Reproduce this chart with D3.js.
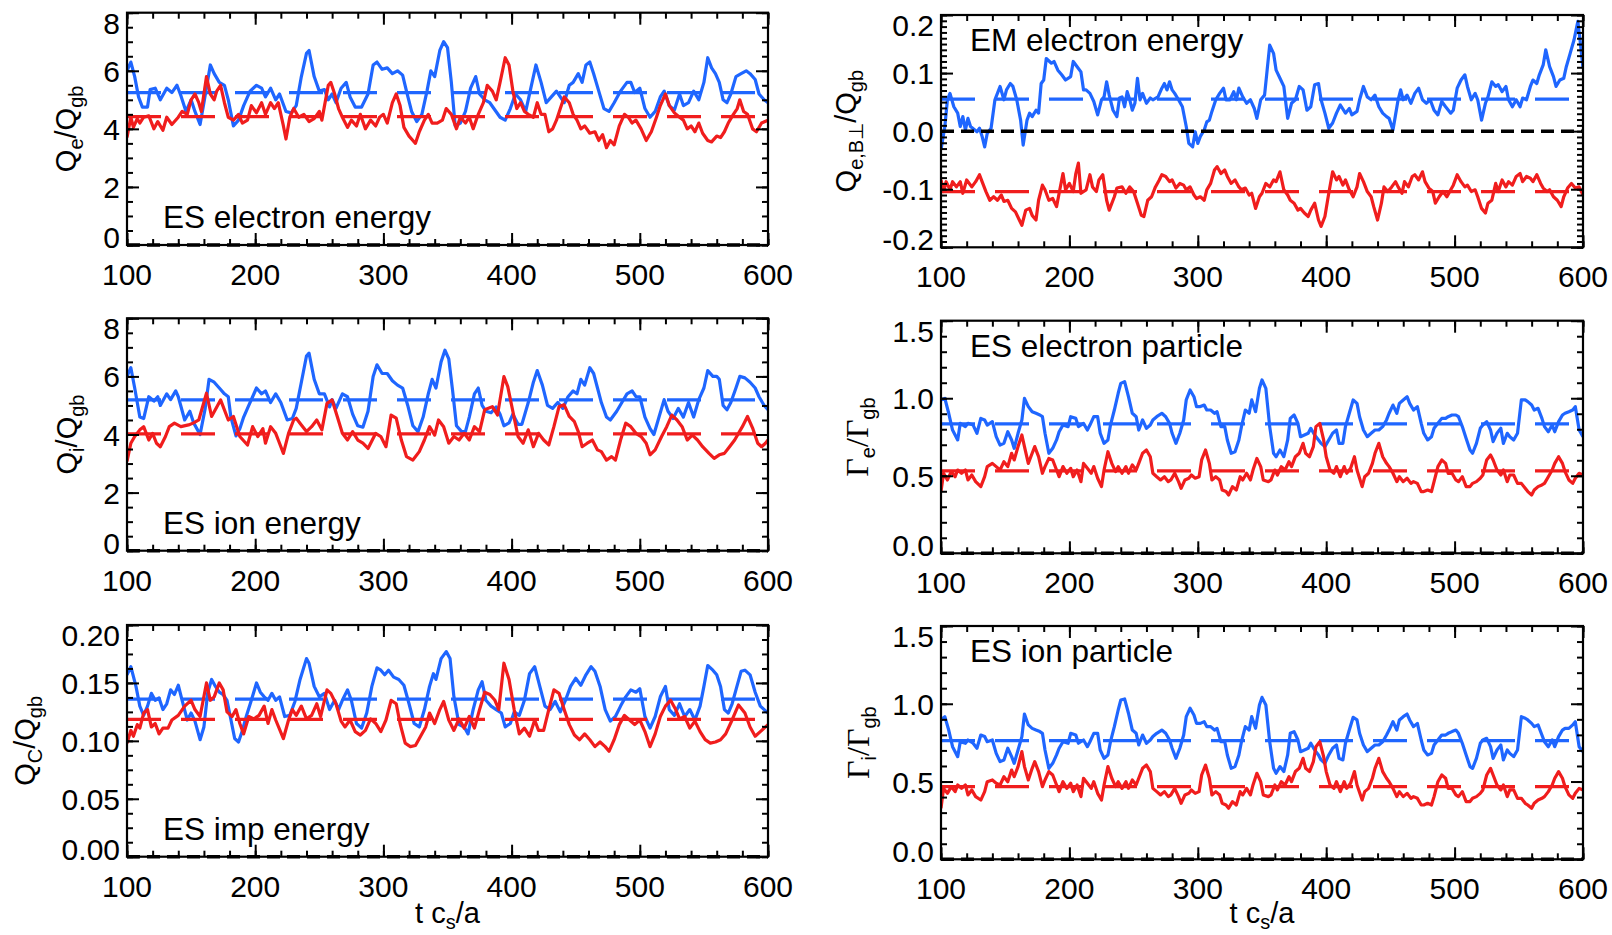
<!DOCTYPE html>
<html>
<head>
<meta charset="utf-8">
<script src="https://cdn.jsdelivr.net/npm/d3@7"></script>
<style>
  body { margin: 0; background: #fff; }
  text { font-family: "Liberation Sans", Arial, Helvetica, sans-serif; fill: #000; }
</style>
</head>
<body>
<svg id="chart" width="1612" height="935"></svg>
<script>
// time axis
var tRange = [100, 600];
var tTicks = [100, 200, 300, 400, 500, 600];

// ES electron energy (Qe/Qgb)
var qeBlue = [[100,6.0],[103,6.3],[106,5.8],[109,5.1],[112,4.75],[116,4.75],[118,5.35],[122,5.4],[126,5.0],[131,5.4],[135,5.25],[139,5.5],[142,5.15],[146,4.6],[150,5.0],[153,4.6],[157,4.15],[160,4.9],[165,6.2],[168,5.9],[172,5.6],[176,5.5],[179,5.0],[183,4.1],[187,4.3],[191,4.8],[196,5.3],[201,5.5],[205,5.4],[208,5.1],[212,5.4],[216,5.0],[219,5.2],[224,4.6],[228,4.55],[232,4.8],[236,5.8],[240,6.6],[242,6.7],[246,5.8],[250,5.3],[254,5.35],[257,5.0],[260,5.2],[263,4.9],[267,5.4],[271,5.6],[274,5.1],[278,4.75],[283,4.75],[288,5.2],[292,6.2],[295,6.3],[299,6.05],[303,6.1],[307,5.9],[311,6.0],[315,5.85],[318,5.3],[322,4.6],[326,4.25],[330,4.5],[334,5.3],[337,6.0],[340,5.8],[344,6.7],[347,7.0],[350,6.8],[353,5.6],[356,4.1],[360,4.2],[364,4.6],[368,5.4],[372,5.8],[375,5.2],[379,5.0],[383,4.9],[387,4.65],[391,4.4],[395,4.3],[399,4.7],[403,5.2],[407,5.0],[411,4.6],[415,5.4],[419,6.2],[423,5.6],[427,4.9],[431,5.1],[435,5.3],[438,5.1],[441,4.9],[445,5.5],[448,5.6],[452,5.9],[455,5.6],[458,6.2],[461,6.3],[464,5.9],[468,5.3],[472,4.7],[476,4.6],[480,4.9],[485,5.3],[490,5.6],[493,5.6],[496,5.25],[500,5.4],[504,4.7],[508,4.4],[512,4.6],[516,5.1],[519,5.3],[523,4.8],[527,4.65],[531,5.2],[534,4.8],[538,4.9],[542,5.3],[546,5.0],[550,5.6],[553,6.45],[556,6.1],[559,5.9],[562,5.6],[565,5.0],[568,4.9],[571,5.2],[575,5.8],[579,5.9],[583,6.0],[586,5.9],[590,5.7],[593,5.2],[597,5.0],[600,4.9]];
var qeRed = [[100,3.7],[103,4.4],[105,4.05],[108,4.35],[110,4.2],[113,4.4],[117,4.45],[121,4.0],[124,4.25],[128,3.95],[131,4.4],[135,4.15],[140,4.4],[143,4.6],[147,4.5],[150,5.0],[153,5.2],[156,4.9],[158,4.6],[162,5.8],[165,5.2],[168,5.0],[170,5.3],[173,5.5],[176,4.9],[179,4.4],[183,4.3],[187,4.5],[190,4.2],[194,4.3],[197,4.8],[201,4.55],[205,4.9],[208,4.5],[212,4.9],[215,4.7],[218,4.9],[222,4.1],[224,3.65],[227,4.4],[230,4.7],[234,4.4],[238,4.5],[242,4.25],[246,4.35],[250,4.6],[252,4.3],[257,5.5],[259,5.6],[262,5.2],[265,4.7],[268,4.4],[272,4.05],[275,4.3],[279,4.1],[282,4.5],[286,4.0],[290,4.3],[294,4.1],[297,4.4],[300,4.5],[303,4.2],[307,4.9],[310,5.2],[313,4.8],[316,4.05],[320,3.75],[323,3.6],[325,3.5],[328,3.9],[332,4.3],[335,4.5],[338,4.2],[342,4.2],[346,4.3],[349,4.7],[353,4.5],[357,4.0],[360,4.4],[364,4.2],[367,4.4],[370,4.0],[374,4.5],[378,4.9],[381,5.5],[385,5.3],[388,5.0],[391,5.6],[395,6.45],[398,6.2],[401,5.3],[404,4.7],[407,4.9],[410,4.6],[413,4.5],[417,4.4],[420,4.9],[423,4.5],[426,4.5],[429,3.9],[432,4.0],[435,4.3],[438,4.7],[441,5.1],[445,4.9],[448,4.5],[451,4.3],[454,4.0],[457,4.1],[461,3.85],[465,3.9],[468,3.6],[471,3.8],[474,3.35],[477,3.6],[480,3.45],[484,4.1],[488,4.5],[491,4.4],[494,4.2],[497,4.3],[501,4.0],[505,3.6],[509,3.9],[513,4.4],[516,4.8],[520,5.2],[523,4.8],[527,4.55],[531,4.4],[534,4.3],[537,4.0],[540,4.1],[543,3.9],[546,4.2],[549,3.85],[553,3.6],[556,3.55],[560,3.75],[563,3.7],[566,3.9],[569,4.2],[573,4.5],[576,4.7],[578,5.0],[581,4.6],[584,4.5],[588,4.0],[591,3.9],[595,4.2],[600,4.3]];

// ES ion energy (Qi/Qgb)
var qiBlue = [[100,6.0],[103,6.3],[106,5.6],[110,4.6],[113,4.55],[117,5.3],[121,5.15],[124,5.3],[126,5.0],[131,5.4],[134,5.2],[138,5.5],[140,5.3],[145,4.5],[149,4.8],[152,4.4],[157,4.0],[161,4.9],[164,5.9],[168,5.8],[172,5.6],[176,5.4],[179,5.3],[181,4.6],[185,3.95],[188,4.2],[191,4.6],[195,5.0],[198,5.3],[201,5.6],[205,5.4],[208,5.5],[212,5.1],[216,5.4],[220,5.1],[225,4.5],[229,4.55],[232,4.9],[236,5.8],[240,6.7],[242,6.8],[246,5.9],[250,5.4],[254,5.4],[258,4.95],[260,5.2],[263,4.9],[268,5.4],[272,5.3],[276,4.7],[280,4.3],[284,4.25],[288,4.8],[292,6.0],[295,6.4],[299,6.1],[303,6.1],[307,5.85],[311,5.7],[315,5.6],[319,5.0],[323,4.3],[327,4.1],[331,4.6],[335,5.4],[338,5.9],[341,5.6],[345,6.5],[348,6.9],[351,6.6],[354,5.5],[357,4.3],[361,4.1],[364,4.1],[367,4.6],[371,5.4],[374,5.6],[377,5.0],[380,4.8],[384,4.75],[388,4.95],[391,4.7],[394,4.3],[398,4.4],[401,4.7],[405,4.35],[408,4.35],[413,5.1],[417,5.8],[420,6.2],[424,5.7],[428,5.0],[432,4.9],[436,5.1],[440,4.9],[444,5.3],[448,5.5],[451,5.4],[454,5.9],[457,5.7],[461,6.3],[464,6.1],[467,5.6],[470,5.1],[474,4.6],[477,4.5],[482,4.8],[486,5.1],[490,5.4],[494,5.5],[497,5.3],[500,5.3],[504,4.6],[508,4.2],[511,4.0],[515,4.6],[519,5.2],[522,4.8],[526,4.55],[530,4.9],[534,4.6],[538,5.1],[542,4.6],[546,5.2],[550,5.6],[553,6.2],[557,6.0],[560,6.0],[562,5.9],[565,5.0],[568,4.85],[571,5.1],[575,5.6],[578,6.0],[582,5.95],[586,5.8],[590,5.6],[593,5.3],[597,5.0],[600,4.85]];
var qiRed = [[100,3.07],[103,3.7],[106,3.93],[110,4.16],[113,4.27],[117,3.81],[120,4.04],[123,3.7],[126,3.58],[130,3.93],[133,4.27],[137,4.39],[142,4.27],[148,4.33],[152,4.4],[156,4.5],[162,5.42],[166,4.62],[173,5.19],[179,4.5],[183,4.62],[188,3.93],[194,3.64],[198,4.27],[202,3.93],[206,4.2],[208,3.7],[212,4.27],[216,4.04],[218,3.81],[222,3.35],[226,4.04],[230,4.5],[232,4.56],[236,4.33],[240,4.1],[244,4.27],[248,4.5],[252,4.16],[256,5.07],[260,5.19],[264,4.62],[268,4.04],[272,3.81],[276,4.1],[280,3.81],[284,3.7],[288,3.52],[294,4.04],[298,3.93],[302,3.58],[306,4.67],[310,4.56],[314,3.81],[318,3.24],[323,3.12],[328,3.41],[332,3.81],[336,4.27],[340,3.98],[343,4.5],[347,4.27],[351,3.7],[355,3.93],[359,3.81],[363,4.04],[367,3.81],[371,4.27],[375,4.1],[379,4.85],[385,4.96],[389,4.67],[394,5.99],[397,5.65],[401,4.79],[405,3.93],[409,3.7],[413,4.16],[417,3.58],[421,4.04],[425,3.81],[429,3.64],[433,4.27],[437,4.96],[441,5.02],[445,4.62],[449,4.44],[452,4.1],[455,3.58],[459,3.7],[463,3.81],[467,3.47],[470,3.41],[474,3.12],[478,3.24],[481,3.12],[485,3.81],[489,4.39],[493,4.27],[497,4.04],[501,3.93],[505,3.7],[508,3.3],[512,3.47],[517,3.93],[521,4.27],[525,4.67],[529,4.5],[533,4.27],[537,3.81],[541,3.98],[545,3.81],[549,3.58],[554,3.35],[558,3.18],[562,3.3],[566,3.35],[570,3.58],[574,3.81],[580,4.27],[584,4.62],[588,4.22],[592,3.7],[595,3.58],[598,3.7],[600,3.81]];

// ES impurity energy (QC/Qgb)
var qcBlue = [[100,0.157],[103,0.164],[107,0.147],[110,0.130],[113,0.122],[116,0.130],[119,0.141],[122,0.135],[125,0.137],[128,0.127],[131,0.132],[134,0.144],[137,0.140],[140,0.148],[143,0.135],[147,0.118],[150,0.124],[153,0.117],[157,0.101],[160,0.112],[163,0.142],[166,0.153],[169,0.147],[172,0.142],[175,0.140],[178,0.135],[180,0.124],[184,0.102],[187,0.099],[190,0.109],[193,0.121],[197,0.135],[201,0.150],[204,0.142],[207,0.138],[210,0.135],[213,0.141],[216,0.135],[219,0.138],[223,0.121],[227,0.122],[231,0.134],[235,0.153],[240,0.171],[242,0.167],[246,0.147],[250,0.138],[254,0.141],[258,0.127],[262,0.135],[265,0.127],[268,0.135],[272,0.144],[275,0.135],[279,0.115],[283,0.111],[287,0.124],[291,0.147],[295,0.163],[298,0.161],[301,0.157],[304,0.161],[308,0.155],[312,0.153],[316,0.148],[320,0.132],[324,0.115],[328,0.112],[332,0.127],[336,0.147],[339,0.158],[341,0.153],[345,0.171],[349,0.177],[352,0.171],[355,0.138],[359,0.114],[363,0.112],[366,0.106],[370,0.127],[374,0.144],[377,0.151],[380,0.135],[384,0.130],[388,0.127],[392,0.124],[395,0.112],[399,0.115],[402,0.125],[406,0.122],[410,0.135],[414,0.158],[418,0.164],[422,0.147],[426,0.130],[430,0.127],[434,0.134],[438,0.125],[442,0.135],[446,0.147],[450,0.154],[454,0.148],[458,0.157],[462,0.164],[465,0.160],[469,0.147],[473,0.127],[477,0.117],[481,0.121],[485,0.130],[489,0.138],[493,0.144],[497,0.142],[500,0.145],[504,0.121],[508,0.111],[512,0.121],[516,0.138],[520,0.147],[523,0.127],[527,0.122],[531,0.132],[535,0.121],[539,0.127],[543,0.118],[547,0.130],[550,0.147],[553,0.165],[557,0.161],[560,0.157],[563,0.147],[566,0.127],[569,0.124],[572,0.132],[575,0.144],[579,0.160],[582,0.161],[586,0.157],[590,0.142],[594,0.130],[600,0.124]];
var qcRed = [[100,0.098],[103,0.109],[105,0.104],[108,0.114],[110,0.111],[113,0.124],[116,0.127],[119,0.112],[122,0.115],[125,0.106],[128,0.111],[132,0.111],[135,0.118],[140,0.122],[145,0.130],[150,0.135],[153,0.127],[157,0.121],[162,0.150],[165,0.135],[168,0.138],[172,0.150],[175,0.144],[178,0.125],[182,0.121],[185,0.127],[188,0.115],[191,0.106],[195,0.121],[199,0.119],[203,0.122],[207,0.130],[210,0.115],[213,0.127],[216,0.118],[222,0.102],[226,0.118],[229,0.127],[232,0.122],[236,0.130],[240,0.119],[244,0.122],[248,0.132],[251,0.121],[256,0.144],[259,0.141],[263,0.132],[267,0.117],[270,0.112],[274,0.118],[278,0.108],[282,0.105],[286,0.109],[290,0.119],[294,0.115],[298,0.108],[302,0.118],[306,0.135],[310,0.132],[313,0.115],[317,0.098],[321,0.095],[325,0.096],[329,0.104],[333,0.112],[336,0.124],[340,0.115],[344,0.127],[347,0.134],[351,0.118],[355,0.109],[359,0.119],[363,0.111],[367,0.121],[371,0.111],[375,0.127],[379,0.142],[383,0.140],[387,0.135],[390,0.127],[394,0.167],[398,0.153],[402,0.127],[406,0.106],[410,0.111],[414,0.104],[418,0.118],[421,0.109],[425,0.109],[429,0.127],[433,0.144],[437,0.141],[441,0.127],[445,0.114],[449,0.105],[453,0.101],[457,0.106],[461,0.101],[465,0.095],[469,0.099],[473,0.095],[476,0.091],[480,0.101],[484,0.114],[488,0.122],[492,0.118],[496,0.114],[500,0.118],[504,0.108],[508,0.095],[512,0.106],[516,0.121],[520,0.130],[524,0.135],[528,0.127],[531,0.119],[535,0.121],[539,0.111],[543,0.117],[547,0.108],[551,0.101],[555,0.098],[559,0.099],[563,0.101],[567,0.106],[572,0.118],[577,0.131],[582,0.124],[586,0.112],[590,0.104],[594,0.108],[600,0.114]];

// EM electron energy (Qe,B_perp/Qgb)
var qemBlue = [[100,-0.032],[103,0.008],[105,0.054],[107,0.065],[110,0.042],[113,0.031],[115,0.008],[117,0.025],[119,0.002],[121,0.022],[123,0.008],[128,-0.001],[130,0.005],[132,-0.009],[134,-0.027],[136,-0.004],[139,0.005],[142,0.054],[145,0.071],[146,0.077],[149,0.054],[151,0.071],[154,0.082],[156,0.077],[159,0.054],[162,0.019],[164,-0.024],[167,0.019],[169,0.031],[171,0.025],[174,0.036],[176,0.031],[178,0.082],[180,0.088],[182,0.125],[186,0.117],[188,0.120],[191,0.105],[194,0.097],[197,0.088],[201,0.094],[203,0.120],[206,0.111],[209,0.102],[211,0.071],[213,0.071],[216,0.065],[219,0.051],[222,0.028],[225,0.054],[227,0.059],[229,0.085],[231,0.062],[234,0.036],[237,0.025],[239,0.057],[241,0.059],[243,0.042],[245,0.068],[247,0.054],[249,0.036],[251,0.048],[253,0.091],[255,0.054],[257,0.065],[260,0.048],[263,0.057],[265,0.054],[269,0.059],[272,0.074],[274,0.082],[276,0.071],[278,0.085],[280,0.071],[282,0.065],[285,0.054],[288,0.042],[291,0.008],[293,-0.021],[296,-0.027],[298,-0.001],[300,-0.021],[302,-0.009],[305,0.002],[307,0.016],[309,0.019],[311,0.034],[314,0.054],[317,0.065],[320,0.074],[322,0.054],[325,0.054],[328,0.068],[330,0.054],[332,0.074],[335,0.059],[338,0.048],[341,0.054],[344,0.039],[346,0.022],[349,0.054],[352,0.062],[354,0.105],[356,0.148],[359,0.134],[361,0.105],[364,0.091],[367,0.077],[370,0.022],[373,0.048],[376,0.054],[379,0.077],[382,0.071],[385,0.036],[388,0.042],[391,0.080],[394,0.082],[396,0.054],[399,0.031],[402,0.005],[405,0.014],[408,0.031],[411,0.045],[415,0.031],[418,0.039],[420,0.028],[424,0.034],[426,0.054],[429,0.077],[432,0.059],[435,0.054],[438,0.062],[441,0.042],[444,0.031],[447,0.025],[449,0.022],[452,0.002],[454,0.028],[456,0.054],[458,0.071],[460,0.054],[463,0.062],[466,0.048],[469,0.065],[472,0.074],[475,0.054],[478,0.048],[481,0.054],[484,0.036],[487,0.028],[490,0.051],[493,0.042],[497,0.031],[499,0.036],[502,0.074],[505,0.088],[508,0.097],[510,0.077],[513,0.054],[516,0.065],[518,0.054],[521,0.019],[524,0.048],[526,0.059],[529,0.085],[532,0.077],[534,0.080],[537,0.068],[540,0.077],[542,0.054],[545,0.042],[548,0.054],[551,0.042],[553,0.057],[556,0.054],[559,0.077],[561,0.088],[564,0.082],[566,0.097],[569,0.114],[571,0.140],[574,0.111],[577,0.094],[579,0.077],[582,0.088],[585,0.091],[587,0.111],[590,0.134],[593,0.157],[596,0.189],[598,0.151],[600,0.108]];
var qemRed = [[100,-0.084],[102,-0.104],[104,-0.087],[107,-0.101],[109,-0.087],[112,-0.096],[115,-0.087],[117,-0.107],[120,-0.084],[124,-0.096],[127,-0.087],[130,-0.075],[132,-0.087],[135,-0.104],[138,-0.119],[141,-0.113],[144,-0.119],[147,-0.110],[149,-0.121],[152,-0.119],[155,-0.133],[158,-0.139],[161,-0.153],[163,-0.162],[166,-0.136],[169,-0.133],[171,-0.145],[174,-0.153],[176,-0.119],[179,-0.093],[181,-0.101],[184,-0.119],[187,-0.116],[190,-0.130],[192,-0.107],[195,-0.073],[197,-0.101],[200,-0.090],[203,-0.104],[205,-0.073],[207,-0.055],[209,-0.107],[213,-0.101],[216,-0.075],[218,-0.096],[221,-0.104],[223,-0.084],[226,-0.075],[229,-0.119],[231,-0.136],[235,-0.113],[237,-0.098],[241,-0.096],[244,-0.107],[247,-0.096],[250,-0.104],[253,-0.124],[256,-0.145],[258,-0.147],[261,-0.119],[264,-0.113],[267,-0.096],[270,-0.084],[272,-0.075],[275,-0.078],[278,-0.087],[280,-0.084],[283,-0.098],[286,-0.090],[289,-0.093],[291,-0.101],[294,-0.096],[297,-0.110],[299,-0.116],[302,-0.113],[305,-0.119],[307,-0.101],[310,-0.090],[313,-0.067],[315,-0.061],[318,-0.073],[321,-0.067],[323,-0.078],[326,-0.090],[329,-0.084],[332,-0.096],[334,-0.101],[337,-0.098],[340,-0.110],[342,-0.107],[345,-0.133],[348,-0.113],[350,-0.107],[353,-0.090],[356,-0.096],[359,-0.084],[361,-0.087],[364,-0.070],[367,-0.101],[370,-0.110],[372,-0.119],[375,-0.124],[378,-0.136],[380,-0.133],[383,-0.141],[386,-0.147],[388,-0.136],[391,-0.124],[394,-0.153],[396,-0.164],[399,-0.147],[402,-0.107],[405,-0.070],[408,-0.084],[410,-0.078],[413,-0.093],[415,-0.084],[418,-0.101],[421,-0.113],[424,-0.096],[426,-0.073],[429,-0.087],[432,-0.104],[435,-0.113],[437,-0.130],[440,-0.153],[443,-0.124],[445,-0.096],[448,-0.104],[451,-0.096],[454,-0.087],[456,-0.096],[459,-0.107],[461,-0.087],[464,-0.096],[467,-0.078],[469,-0.075],[472,-0.084],[475,-0.070],[477,-0.087],[480,-0.098],[483,-0.104],[485,-0.124],[488,-0.113],[491,-0.104],[494,-0.113],[497,-0.101],[499,-0.093],[502,-0.075],[505,-0.087],[508,-0.096],[510,-0.093],[513,-0.104],[516,-0.101],[518,-0.113],[521,-0.133],[524,-0.141],[526,-0.124],[529,-0.119],[532,-0.090],[534,-0.104],[537,-0.084],[540,-0.096],[542,-0.087],[545,-0.093],[548,-0.078],[551,-0.073],[553,-0.087],[556,-0.078],[559,-0.081],[561,-0.087],[564,-0.075],[567,-0.090],[569,-0.098],[572,-0.104],[574,-0.101],[577,-0.113],[580,-0.119],[583,-0.130],[585,-0.113],[588,-0.098],[591,-0.090],[594,-0.098],[597,-0.096],[600,-0.110]];

// ES electron particle (Gamma_e/Gamma_gb)
var geBlue = [[100,0.989],[103,0.999],[106,0.903],[109,0.795],[113,0.731],[115,0.838],[119,0.817],[121,0.838],[125,0.827],[128,0.774],[131,0.870],[134,0.860],[136,0.827],[140,0.849],[143,0.752],[146,0.698],[149,0.709],[152,0.784],[155,0.731],[157,0.677],[160,0.774],[163,0.860],[165,0.999],[168,0.946],[171,0.913],[174,0.903],[177,0.892],[179,0.881],[181,0.774],[184,0.645],[187,0.677],[190,0.731],[192,0.784],[195,0.827],[199,0.817],[201,0.881],[205,0.870],[207,0.817],[211,0.838],[214,0.795],[216,0.827],[219,0.881],[222,0.881],[224,0.774],[227,0.709],[230,0.731],[232,0.827],[235,0.924],[238,1.032],[240,1.096],[243,1.107],[246,1.010],[249,0.903],[252,0.881],[254,0.795],[257,0.860],[260,0.806],[263,0.827],[265,0.860],[268,0.881],[272,0.903],[275,0.881],[278,0.838],[280,0.774],[283,0.709],[286,0.774],[289,0.860],[291,0.989],[294,1.053],[297,1.010],[299,0.946],[302,0.946],[305,0.956],[307,0.924],[310,0.924],[313,0.903],[315,0.913],[318,0.817],[321,0.817],[323,0.731],[326,0.645],[329,0.655],[332,0.731],[334,0.817],[337,0.924],[340,0.903],[342,0.989],[345,0.913],[348,1.064],[350,1.118],[353,1.064],[356,0.817],[359,0.645],[361,0.623],[364,0.666],[367,0.623],[370,0.731],[372,0.870],[375,0.892],[378,0.838],[380,0.752],[383,0.763],[386,0.774],[388,0.806],[391,0.763],[394,0.731],[396,0.709],[399,0.688],[402,0.731],[405,0.774],[408,0.795],[410,0.709],[413,0.709],[415,0.817],[418,0.903],[421,0.989],[424,0.967],[426,0.881],[429,0.795],[432,0.752],[435,0.774],[438,0.795],[441,0.795],[444,0.817],[447,0.860],[449,0.903],[452,0.956],[455,0.903],[457,0.967],[460,0.989],[463,1.010],[465,0.967],[468,0.924],[471,0.946],[474,0.838],[476,0.774],[479,0.731],[482,0.752],[484,0.806],[487,0.838],[490,0.870],[493,0.870],[495,0.881],[498,0.892],[501,0.892],[503,0.881],[506,0.817],[509,0.741],[512,0.666],[514,0.645],[517,0.709],[520,0.806],[522,0.827],[525,0.849],[528,0.795],[530,0.720],[533,0.774],[536,0.806],[538,0.709],[541,0.774],[543,0.752],[546,0.731],[549,0.774],[552,0.989],[555,0.989],[557,0.978],[560,0.956],[562,0.924],[565,0.935],[568,0.870],[570,0.817],[573,0.784],[576,0.827],[578,0.784],[581,0.849],[584,0.892],[586,0.903],[589,0.913],[592,0.924],[594,0.946],[597,0.795],[600,0.752]];
var geRed = [[100,0.398],[102,0.516],[105,0.473],[108,0.527],[111,0.494],[113,0.537],[116,0.516],[119,0.537],[121,0.473],[124,0.505],[127,0.462],[131,0.430],[134,0.494],[136,0.559],[140,0.580],[143,0.559],[146,0.537],[149,0.591],[152,0.559],[155,0.645],[157,0.602],[160,0.688],[163,0.763],[165,0.688],[168,0.580],[171,0.645],[173,0.688],[176,0.623],[179,0.516],[181,0.559],[184,0.612],[187,0.602],[190,0.537],[192,0.494],[195,0.559],[198,0.516],[201,0.548],[203,0.494],[206,0.537],[209,0.462],[211,0.580],[214,0.548],[217,0.516],[219,0.559],[222,0.484],[225,0.430],[227,0.537],[230,0.655],[233,0.580],[236,0.527],[238,0.559],[241,0.516],[244,0.559],[246,0.516],[249,0.570],[252,0.537],[254,0.580],[257,0.645],[260,0.666],[263,0.623],[265,0.516],[268,0.494],[271,0.473],[274,0.494],[277,0.462],[279,0.473],[282,0.516],[285,0.462],[287,0.419],[290,0.473],[293,0.484],[295,0.505],[298,0.484],[301,0.494],[303,0.602],[306,0.666],[309,0.580],[311,0.473],[314,0.494],[317,0.473],[319,0.408],[322,0.398],[324,0.376],[327,0.430],[330,0.408],[333,0.494],[335,0.473],[338,0.516],[341,0.473],[343,0.537],[346,0.612],[349,0.559],[351,0.473],[355,0.462],[357,0.473],[360,0.537],[362,0.505],[365,0.559],[368,0.537],[371,0.591],[373,0.559],[376,0.623],[379,0.645],[382,0.709],[384,0.645],[387,0.623],[390,0.688],[392,0.817],[395,0.838],[398,0.731],[400,0.623],[403,0.537],[406,0.516],[408,0.559],[411,0.494],[414,0.559],[416,0.516],[419,0.548],[422,0.623],[424,0.537],[428,0.430],[430,0.494],[433,0.516],[436,0.580],[438,0.645],[441,0.709],[444,0.623],[447,0.580],[449,0.559],[452,0.516],[455,0.462],[457,0.494],[460,0.462],[463,0.484],[466,0.451],[468,0.462],[471,0.451],[474,0.398],[476,0.398],[479,0.408],[482,0.398],[484,0.462],[487,0.559],[490,0.602],[493,0.580],[495,0.516],[498,0.516],[501,0.473],[503,0.462],[506,0.494],[509,0.430],[512,0.430],[514,0.451],[517,0.462],[520,0.484],[522,0.505],[525,0.602],[528,0.634],[530,0.602],[533,0.537],[536,0.505],[538,0.537],[541,0.462],[543,0.505],[546,0.505],[549,0.451],[552,0.451],[555,0.419],[557,0.398],[560,0.376],[562,0.408],[565,0.430],[568,0.441],[570,0.451],[573,0.494],[576,0.537],[578,0.580],[581,0.623],[584,0.580],[586,0.527],[589,0.473],[592,0.451],[594,0.484],[597,0.516],[600,0.505]];

// ES ion particle (Gamma_i/Gamma_gb)
var giBlue = [[100,0.896],[103,0.917],[106,0.831],[109,0.724],[113,0.660],[115,0.756],[119,0.746],[121,0.767],[125,0.746],[128,0.714],[131,0.799],[134,0.789],[136,0.756],[140,0.767],[143,0.681],[146,0.628],[149,0.639],[152,0.714],[155,0.660],[157,0.617],[160,0.703],[163,0.789],[165,0.934],[168,0.864],[171,0.842],[174,0.831],[177,0.821],[179,0.810],[181,0.703],[184,0.585],[187,0.617],[190,0.671],[192,0.714],[195,0.756],[199,0.746],[201,0.810],[205,0.799],[207,0.746],[211,0.767],[214,0.724],[216,0.756],[219,0.810],[222,0.810],[224,0.703],[227,0.649],[230,0.671],[232,0.756],[235,0.853],[238,0.960],[240,1.024],[243,1.031],[246,0.939],[249,0.831],[252,0.810],[254,0.735],[257,0.799],[260,0.746],[263,0.767],[265,0.789],[268,0.810],[272,0.831],[275,0.810],[278,0.767],[280,0.714],[283,0.649],[286,0.714],[289,0.799],[291,0.917],[294,0.971],[297,0.928],[299,0.874],[302,0.874],[305,0.885],[307,0.853],[310,0.853],[313,0.831],[315,0.842],[318,0.756],[321,0.756],[323,0.671],[326,0.585],[329,0.596],[332,0.671],[334,0.756],[337,0.853],[340,0.831],[342,0.917],[345,0.842],[348,0.992],[350,1.041],[353,0.992],[356,0.756],[359,0.585],[361,0.553],[364,0.596],[367,0.564],[370,0.671],[372,0.810],[375,0.821],[378,0.767],[380,0.692],[383,0.703],[386,0.714],[388,0.746],[391,0.703],[394,0.671],[396,0.639],[399,0.617],[402,0.671],[405,0.714],[408,0.735],[410,0.649],[413,0.639],[415,0.746],[418,0.831],[421,0.913],[424,0.896],[426,0.810],[429,0.735],[432,0.692],[435,0.714],[438,0.735],[441,0.735],[444,0.756],[447,0.799],[449,0.831],[452,0.885],[455,0.831],[457,0.896],[460,0.917],[463,0.934],[465,0.896],[468,0.853],[471,0.874],[474,0.767],[476,0.703],[479,0.671],[482,0.681],[484,0.735],[487,0.767],[490,0.799],[493,0.799],[495,0.810],[498,0.821],[501,0.831],[503,0.810],[506,0.746],[509,0.671],[512,0.596],[514,0.585],[517,0.649],[520,0.746],[522,0.767],[525,0.778],[528,0.724],[530,0.649],[533,0.703],[536,0.735],[538,0.639],[541,0.703],[543,0.681],[546,0.660],[549,0.703],[552,0.917],[555,0.907],[557,0.896],[560,0.874],[562,0.853],[565,0.864],[568,0.799],[570,0.756],[573,0.724],[576,0.767],[578,0.724],[581,0.789],[584,0.831],[586,0.842],[589,0.842],[592,0.864],[594,0.885],[597,0.724],[600,0.692]];
var giRed = [[100,0.328],[102,0.456],[105,0.424],[108,0.467],[111,0.435],[113,0.478],[116,0.456],[119,0.478],[121,0.414],[124,0.446],[127,0.403],[131,0.381],[134,0.435],[136,0.499],[140,0.510],[143,0.489],[146,0.478],[149,0.531],[152,0.499],[155,0.574],[157,0.531],[160,0.596],[163,0.692],[165,0.596],[168,0.510],[171,0.585],[173,0.628],[176,0.564],[179,0.467],[181,0.510],[184,0.564],[187,0.542],[190,0.478],[192,0.435],[195,0.499],[198,0.456],[201,0.489],[203,0.435],[206,0.478],[209,0.403],[211,0.521],[214,0.489],[217,0.456],[219,0.499],[222,0.424],[225,0.381],[227,0.478],[230,0.596],[233,0.521],[236,0.467],[238,0.499],[241,0.456],[244,0.499],[246,0.456],[249,0.510],[252,0.478],[254,0.521],[257,0.585],[260,0.606],[263,0.564],[265,0.456],[268,0.435],[271,0.414],[274,0.435],[277,0.403],[279,0.414],[282,0.456],[285,0.403],[287,0.360],[290,0.414],[293,0.424],[295,0.446],[298,0.424],[301,0.435],[303,0.542],[306,0.606],[309,0.521],[311,0.414],[314,0.435],[317,0.414],[319,0.360],[322,0.349],[324,0.328],[327,0.371],[330,0.349],[333,0.435],[335,0.414],[338,0.456],[341,0.414],[343,0.478],[346,0.553],[349,0.499],[351,0.414],[355,0.403],[357,0.414],[360,0.478],[362,0.446],[365,0.499],[368,0.478],[371,0.531],[373,0.499],[376,0.564],[379,0.585],[382,0.649],[384,0.585],[387,0.564],[390,0.628],[392,0.724],[395,0.756],[398,0.660],[400,0.564],[403,0.478],[406,0.456],[408,0.499],[411,0.435],[414,0.499],[416,0.456],[419,0.489],[422,0.564],[424,0.478],[428,0.381],[430,0.435],[433,0.456],[436,0.521],[438,0.585],[441,0.649],[444,0.564],[447,0.521],[449,0.499],[452,0.456],[455,0.403],[457,0.435],[460,0.403],[463,0.424],[466,0.392],[468,0.403],[471,0.392],[474,0.349],[476,0.349],[479,0.360],[482,0.349],[484,0.403],[487,0.499],[490,0.542],[493,0.521],[495,0.456],[498,0.456],[501,0.414],[503,0.403],[506,0.435],[509,0.371],[512,0.371],[514,0.392],[517,0.403],[520,0.424],[522,0.446],[525,0.542],[528,0.585],[530,0.542],[533,0.478],[536,0.446],[538,0.478],[541,0.403],[543,0.446],[546,0.446],[549,0.392],[552,0.392],[555,0.360],[557,0.349],[560,0.328],[562,0.360],[565,0.381],[568,0.392],[570,0.403],[573,0.435],[576,0.478],[578,0.521],[581,0.564],[584,0.521],[586,0.467],[589,0.414],[592,0.392],[594,0.424],[597,0.456],[600,0.446]];

// time averages (dashed lines), panel order
var meanBlue = [5.25, 5.19, 0.136, 0.055, 0.834, 0.763];
var meanRed = [4.42, 4.02, 0.1186, -0.104, 0.531, 0.467];

var BLUE = "#1f66ff", RED = "#f01d1d";

var svg = d3.select("#chart");

var panels = [
  { col: 0, y0: 12.7, y1: 245, dom: [0, 8], major: 2, minor: 0.5, dec: 0,
    title: "ES electron energy", top: false, lx: 76,
    label: [["Q"], ["e", 1], ["/Q"], ["gb", 1]], blue: qeBlue, red: qeRed },
  { col: 0, y0: 318.3, y1: 550.7, dom: [0, 8], major: 2, minor: 0.5, dec: 0,
    title: "ES ion energy", top: false, lx: 77,
    label: [["Q"], ["i", 1], ["/Q"], ["gb", 1]], blue: qiBlue, red: qiRed },
  { col: 0, y0: 625, y1: 856.7, dom: [0, 0.2], major: 0.05, minor: 0.0125, dec: 2,
    title: "ES imp energy", top: false, lx: 35,
    label: [["Q"], ["C", 1], ["/Q"], ["gb", 1]], blue: qcBlue, red: qcRed },
  { col: 1, y0: 15, y1: 247.3, dom: [-0.2, 0.2], major: 0.1, minor: 0.01, dec: 1,
    title: "EM electron energy", top: true, lx: 856,
    label: [["Q"], ["e,B\u22a5", 1], ["/Q"], ["gb", 1]], blue: qemBlue, red: qemRed },
  { col: 1, y0: 320.7, y1: 553.3, dom: [0, 1.5], major: 0.5, minor: 0.1, dec: 1,
    title: "ES electron particle", top: true, lx: 868,
    label: [["\u0393", 0, 1], ["e", 1], ["/\u0393", 0, 1], ["gb", 1]], blue: geBlue, red: geRed },
  { col: 1, y0: 626, y1: 859.3, dom: [0, 1.5], major: 0.5, minor: 0.1, dec: 1,
    title: "ES ion particle", top: true, lx: 869,
    label: [["\u0393", 0, 1], ["i", 1], ["/\u0393", 0, 1], ["gb", 1]], blue: giBlue, red: giRed }
];

var cols = [{ x0: 127, x1: 768 }, { x0: 941, x1: 1583 }];

function ticksOf(dom, step) {
  var n = Math.round((dom[1] - dom[0]) / step);
  return d3.range(n + 1).map(function (i) { return dom[0] + i * step; });
}

panels.forEach(function (p, i) {
  var c = cols[p.col];
  var x = d3.scaleLinear().domain(tRange).range([c.x0, c.x1]);
  var y = d3.scaleLinear().domain(p.dom).range([p.y1, p.y0]);
  var g = svg.append("g");

  g.append("clipPath").attr("id", "clip" + i)
    .append("rect").attr("x", c.x0).attr("y", p.y0)
    .attr("width", c.x1 - c.x0).attr("height", p.y1 - p.y0);

  var plot = g.append("g").attr("clip-path", "url(#clip" + i + ")");
  var line = d3.line().x(function (d) { return x(d[0]); }).y(function (d) { return y(d[1]); });

  // time traces and their averages
  [[p.blue, meanBlue[i], BLUE], [p.red, meanRed[i], RED]].forEach(function (s) {
    plot.append("path").datum(s[0])
      .attr("d", line)
      .attr("fill", "none").attr("stroke", s[2])
      .attr("stroke-width", 3.2).attr("stroke-linejoin", "round");
    plot.append("line")
      .attr("x1", x(tRange[0])).attr("x2", x(tRange[1]))
      .attr("y1", y(s[1])).attr("y2", y(s[1]))
      .attr("stroke", s[2]).attr("stroke-width", 3.2)
      .attr("stroke-dasharray", "34 20");
  });

  // zero line
  g.append("line")
    .attr("x1", x(tRange[0])).attr("x2", x(tRange[1]))
    .attr("y1", y(0)).attr("y2", y(0))
    .attr("stroke", "#000").attr("stroke-width", 3.5)
    .attr("stroke-dasharray", "13 7");

  // frame + inward ticks on all four sides
  var yMajor = ticksOf(p.dom, p.major), yMinor = ticksOf(p.dom, p.minor);
  var xMajor = tTicks, xMinor = ticksOf(tRange, 20);
  function put(axis, tx, ty, vals, size) {
    var a = g.append("g").attr("transform", "translate(" + tx + "," + ty + ")")
      .call(axis.tickValues(vals).tickSize(-size).tickFormat(""));
    a.select(".domain").remove();
    a.selectAll("line").attr("stroke", "#000").attr("stroke-width", 2);
  }
  [[yMinor, 6], [yMajor, 12]].forEach(function (t) {
    put(d3.axisLeft(y), c.x0, 0, t[0], t[1]);
    put(d3.axisRight(y), c.x1, 0, t[0], t[1]);
  });
  [[xMinor, 6], [xMajor, 12]].forEach(function (t) {
    put(d3.axisBottom(x), 0, p.y1, t[0], t[1]);
    put(d3.axisTop(x), 0, p.y0, t[0], t[1]);
  });
  g.append("rect")
    .attr("x", c.x0).attr("y", p.y0)
    .attr("width", c.x1 - c.x0).attr("height", p.y1 - p.y0)
    .attr("fill", "none").attr("stroke", "#000").attr("stroke-width", 2.2);

  // tick labels
  g.selectAll(".xl").data(xMajor).enter().append("text")
    .attr("x", function (d) { return x(d); })
    .attr("y", p.y1 + 40)
    .attr("text-anchor", "middle").attr("font-size", 30)
    .text(function (d) { return d; });
  g.selectAll(".yl").data(yMajor).enter().append("text")
    .attr("x", c.x0 - 7)
    .attr("y", function (d) {
      var cy = Math.min(Math.max(y(d), p.y0 + 10), p.y1 - 8);
      return cy + 11;
    })
    .attr("text-anchor", "end").attr("font-size", 30)
    .text(function (d) { return d.toFixed(p.dec); });

  // y title
  var yt = g.append("text")
    .attr("transform", "translate(" + p.lx + "," + ((p.y0 + p.y1) / 2) + ") rotate(-90)")
    .attr("text-anchor", "middle").attr("font-size", 29);
  var shifted = 0;
  p.label.forEach(function (part) {
    var ts = yt.append("tspan").text(part[0]);
    var want = part[1] ? 7 : 0;
    if (want !== shifted) { ts.attr("dy", want - shifted); shifted = want; }
    if (part[1]) ts.attr("font-size", 20);
    if (part[2]) ts.style("font-family", "'Liberation Serif','DejaVu Serif',serif").attr("font-size", 32);
  });

  // panel title
  g.append("text")
    .attr("x", c.x0 + (p.top ? 29 : 36))
    .attr("y", p.top ? p.y0 + 36 : p.y1 - 17)
    .attr("font-size", 31.5)
    .text(p.title);

  // x title on bottom row
  if (i === 2 || i === 5) {
    var xt = g.append("text")
      .attr("x", (c.x0 + c.x1) / 2).attr("y", 923)
      .attr("text-anchor", "middle").attr("font-size", 29);
    xt.append("tspan").text("t c");
    xt.append("tspan").attr("dy", 6).attr("font-size", 20).text("s");
    xt.append("tspan").attr("dy", -6).text("/a");
  }
});
</script>
</body>
</html>
